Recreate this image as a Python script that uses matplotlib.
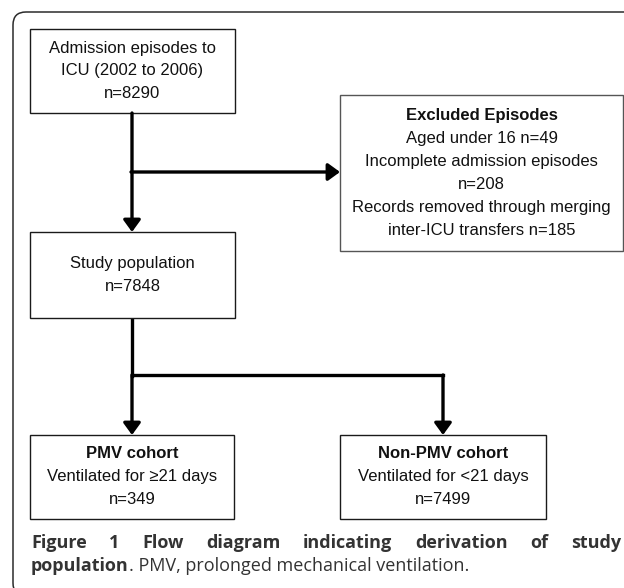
import matplotlib.pyplot as plt
from matplotlib.patches import Rectangle, FancyBboxPatch

# box texts
admission_lines = ["Admission episodes to", "ICU (2002 to 2006)", "n=8290"]
excluded_title = "Excluded Episodes"
excluded_lines = ["Aged under 16 n=49", "Incomplete admission episodes", "n=208",
                  "Records removed through merging", "inter-ICU transfers n=185"]
study_lines = ["Study population", "n=7848"]
pmv_title = "PMV cohort"
pmv_lines = ["Ventilated for \u226521 days", "n=349"]
nonpmv_title = "Non-PMV cohort"
nonpmv_lines = ["Ventilated for <21 days", "n=7499"]

caption_line1 = ["Figure", "1", "Flow", "diagram", "indicating", "derivation", "of", "study"]
caption_bold2 = "population"
caption_rest2 = ". PMV, prolonged mechanical ventilation."

W, H = 624, 588
fig = plt.figure(figsize=(W / 100, H / 100), dpi=100)
ax = fig.add_axes([0, 0, 1, 1])
ax.set_xlim(0, W)
ax.set_ylim(H, 0)
ax.axis('off')

box_font = ['Liberation Sans', 'DejaVu Sans']
cap_font = ['Open Sans', 'DejaVu Sans']
fs = 12.0
line_h = 23

# outer rounded frame (runs off right and bottom)
ax.add_patch(FancyBboxPatch((13, 12), 660, 584, boxstyle="round,pad=0,rounding_size=13",
                            facecolor='white', edgecolor='#2b2b2b', lw=1.1, clip_on=False))


def draw_box(x0, y0, x1, y1, lines, title=None, ec='#1a1a1a'):
    ax.add_patch(Rectangle((x0, y0), x1 - x0, y1 - y0, facecolor='white',
                           edgecolor=ec, lw=1.0, zorder=3))
    allines = ([title] if title else []) + lines
    cx = (x0 + x1) / 2
    cy = (y0 + y1) / 2
    start = cy - line_h * (len(allines) - 1) / 2
    for i, t in enumerate(allines):
        ax.text(cx, start + i * line_h, t, ha='center', va='center', fontsize=fs,
                family=box_font, color='#111111', zorder=4,
                fontweight='bold' if (title and i == 0) else 'normal')


draw_box(30, 29, 235, 113, admission_lines)
draw_box(340, 95, 623, 251, excluded_lines, title=excluded_title, ec='#555555')
draw_box(30, 232, 235, 318, study_lines)
draw_box(30, 435, 234, 519, pmv_lines, title=pmv_title)
draw_box(340, 435, 546, 519, nonpmv_lines, title=nonpmv_title)

lw_arrow = 2.4
arrow_kw = dict(arrowstyle='-|>,head_length=0.55,head_width=0.4', color='black',
                lw=lw_arrow, mutation_scale=13, shrinkA=0, shrinkB=0)


def arrow(x0, y0, x1, y1):
    ax.annotate('', xy=(x1, y1), xytext=(x0, y0), arrowprops=arrow_kw, zorder=5)


# top flow
arrow(132, 113, 132, 232)
arrow(131, 172, 340, 172)
# split
ax.plot([132, 132], [318, 376], color='black', lw=lw_arrow, solid_capstyle='projecting')
ax.plot([132, 443], [375, 375], color='black', lw=lw_arrow, solid_capstyle='projecting')
arrow(132, 375, 132, 435)
arrow(443, 375, 443, 435)

# caption, line 1 justified
fig.canvas.draw()
renderer = fig.canvas.get_renderer()
cap_fs = 13.0
cap_col = '#333333'
x_left, x_right = 31, 621
y1c, y2c = 543, 566
words = []
for w in caption_line1:
    t = ax.text(0, y1c, w, fontsize=cap_fs, family=cap_font, fontweight='bold',
                color=cap_col, ha='left', va='center')
    words.append(t)
widths = [t.get_window_extent(renderer).width for t in words]
gap = (x_right - x_left - sum(widths)) / (len(words) - 1)
x = x_left
for t, wd in zip(words, widths):
    t.set_x(x)
    x += wd + gap

t2 = ax.text(x_left, y2c, caption_bold2, fontsize=cap_fs, family=cap_font,
             fontweight='bold', color=cap_col, ha='left', va='center')
w2 = t2.get_window_extent(renderer).width
ax.text(x_left + w2, y2c, caption_rest2, fontsize=cap_fs, family=cap_font,
        color=cap_col, ha='left', va='center')

fig.savefig('out.png', dpi=100)
